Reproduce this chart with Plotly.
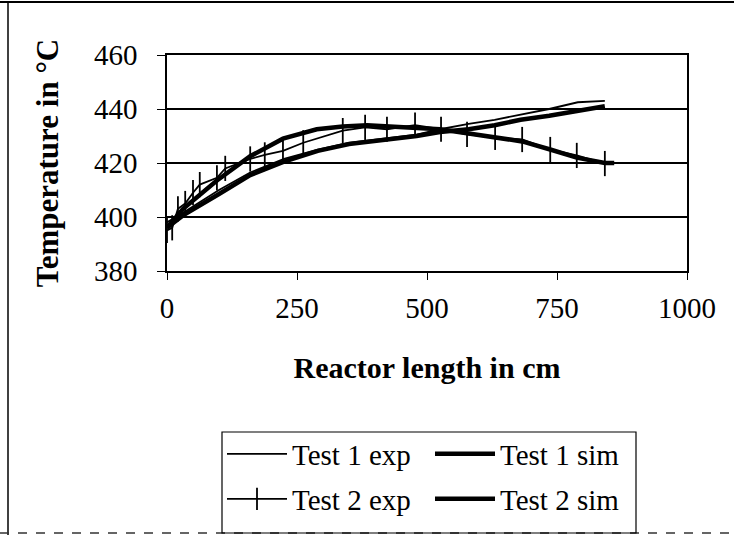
import plotly.graph_objects as go

# ---- data ----
t1_exp_x = [0, 30, 100, 160, 225, 290, 350, 415, 480, 525, 580, 630, 680, 735, 790, 842]
t1_exp_y = [398, 401.5, 410, 416.5, 421.5, 425, 427.5, 429, 430.5, 432.5, 434.5, 436, 438, 440, 442.5, 443]

t1_sim_x = [0, 30, 100, 160, 225, 290, 350, 415, 480, 525, 580, 630, 680, 735, 790, 842]
t1_sim_y = [396, 400.5, 408.5, 415.5, 420.5, 424.5, 427, 428.5, 430, 431.5, 432.5, 434, 436, 437.5, 439.5, 441]

t2_exp_x = [0, 10, 21, 35, 50, 63, 96, 112, 160, 188, 223, 262, 338, 381, 423, 477, 527, 577, 631, 683, 737, 788, 842]
t2_exp_y = [395, 396, 403, 405, 409, 412, 414.5, 418, 421.5, 423, 424.5, 427.5, 432, 433.2, 432.5, 434, 432.5, 430.6, 429.5, 428.7, 425, 422.8, 419.8]

t2_sim_x = [0, 31, 96, 160, 223, 288, 338, 385, 481, 525, 577, 631, 683, 737, 788, 842, 860]
t2_sim_y = [396, 403, 413.5, 422.5, 429, 432.5, 433.5, 434, 433, 432.5, 431, 429.5, 428, 425, 422, 420, 420]

x_ticks = [0, 250, 500, 750, 1000]
y_ticks = [380, 400, 420, 440, 460]

serif = "Liberation Serif, Times New Roman, serif"

fig = go.Figure()
fig.add_trace(go.Scatter(x=t1_exp_x, y=t1_exp_y, name="Test 1 exp", mode="lines",
                         legend="legend",
                         line=dict(color="black", width=1.8)))
fig.add_trace(go.Scatter(x=t1_sim_x, y=t1_sim_y, name="Test 1 sim", mode="lines",
                         legend="legend",
                         line=dict(color="black", width=4.5)))
fig.add_trace(go.Scatter(x=t2_exp_x, y=t2_exp_y, name="Test 2 exp", mode="lines+markers",
                         legend="legend2",
                         line=dict(color="black", width=1.8),
                         marker=dict(symbol="line-ns-open", size=18,
                                     line=dict(color="black", width=1.8))))
fig.add_trace(go.Scatter(x=t2_sim_x, y=t2_sim_y, name="Test 2 sim", mode="lines",
                         legend="legend2",
                         line=dict(color="black", width=4.5)))

W, H = 734, 535
L, R, T, B = 167, 47, 55, 264

def px(xp):
    return (xp - L) / (W - L - R)

def py(yp):
    return (H - B - yp) / (H - T - B)

shapes = [
    dict(type="line", xref="paper", yref="paper", x0=px(0), x1=px(734), y0=py(2), y1=py(2),
         line=dict(color="black", width=2)),
    dict(type="line", xref="paper", yref="paper", x0=px(8), x1=px(8), y0=py(2), y1=py(535),
         line=dict(color="black", width=1.5)),
    dict(type="line", xref="paper", yref="paper", x0=px(0), x1=px(734), y0=py(533), y1=py(533),
         line=dict(color="#333333", width=1.5, dash="dash")),
    # legend frame
    dict(type="rect", xref="paper", yref="paper", x0=px(222), x1=px(636), y0=py(432), y1=py(533),
         line=dict(color="black", width=1.2), fillcolor="rgba(0,0,0,0)"),
]

leg_common = dict(orientation="h", xref="container", yref="container",
                  xanchor="left", yanchor="middle",
                  entrywidth=133, font=dict(family=serif, size=29, color="black"),
                  borderwidth=0, bgcolor="rgba(0,0,0,0)",
                  tracegroupgap=0, itemwidth=60)

fig.update_layout(
    width=W, height=H,
    margin=dict(l=L, r=R, t=T, b=B, autoexpand=False),
    paper_bgcolor="white", plot_bgcolor="white",
    font=dict(family=serif, color="black", size=29),
    shapes=shapes,
    showlegend=True,
    legend=dict(x=222 / W, y=1 - 454 / H, **leg_common),
    legend2=dict(x=222 / W, y=1 - 499 / H, **leg_common),
)
fig.update_xaxes(range=[0, 1000], tickvals=x_ticks, ticktext=[str(v) for v in x_ticks],
                 showgrid=False, zeroline=False, showline=True, linecolor="black", linewidth=1.5,
                 mirror=True, ticks="outside", ticklen=7, tickcolor="black",
                 ticklabelstandoff=3,
                 tickfont=dict(family=serif, size=29),
                 title=dict(text="<b>Reactor length in cm</b>", standoff=34,
                            font=dict(family=serif, size=30)))
fig.update_yaxes(range=[380, 460], tickvals=y_ticks, ticktext=[str(v) for v in y_ticks],
                 showgrid=True, gridcolor="black", gridwidth=1.6, zeroline=False,
                 showline=True, linecolor="black", linewidth=1.5, mirror=True,
                 ticks="outside", ticklen=8, tickcolor="black",
                 ticklabelstandoff=14,
                 tickfont=dict(family=serif, size=29),
                 title=dict(text="<b>Temperature in °C</b>", standoff=26,
                            font=dict(family=serif, size=31)))

fig.write_html("out.html", config={"displayModeBar": False},
               post_script="document.body.style.margin='0px';document.body.style.overflow='hidden';")
